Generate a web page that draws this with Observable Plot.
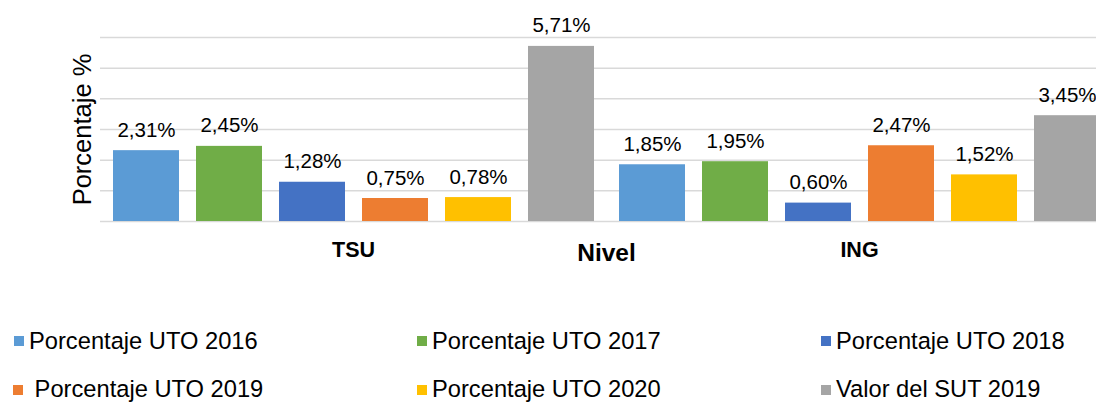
<!DOCTYPE html>
<html><head><meta charset="utf-8">
<script src="https://cdn.jsdelivr.net/npm/d3@7"></script>
<script src="https://cdn.jsdelivr.net/npm/@observablehq/plot@0.6"></script>
<style>
body{margin:0;background:#fff;font-family:"Liberation Sans",Arial,sans-serif;}
#wrap{position:relative;width:1096px;height:404px;overflow:hidden;background:#fff;}
#chart{position:absolute;left:0;top:0;width:1120px;}
#chart svg{max-width:none !important;}
.item{position:absolute;display:flex;align-items:center;font-size:23.7px;color:#000;white-space:pre;line-height:1;}
.sw{width:10px;height:10px;margin-right:5px;flex:none;}
</style></head><body>
<div id="wrap"><div id="chart"></div><div id="legend"></div></div>
<script>
const levels = ["TSU", "ING"];
const series = ["Porcentaje UTO 2016", "Porcentaje UTO 2017", "Porcentaje UTO 2018", "Porcentaje UTO 2019", "Porcentaje UTO 2020", "Valor del SUT 2019"];
const colors = ["#5B9BD5", "#70AD47", "#4472C4", "#ED7D31", "#FFC000", "#A5A5A5"];
const tsuValues = [2.31, 2.45, 1.28, 0.75, 0.78, 5.71];
const ingValues = [1.85, 1.95, 0.60, 2.47, 1.52, 3.45];
const yTicks = [0, 1, 2, 3, 4, 5, 6];
const legendLabels = ["Porcentaje UTO 2016", "Porcentaje UTO 2017", "Porcentaje UTO 2018", " Porcentaje UTO 2019", "Porcentaje UTO 2020", "Valor del SUT 2019"];

const data = [];
series.forEach((s, i) => data.push({level: "TSU", series: s, value: tsuValues[i]}));
series.forEach((s, i) => data.push({level: "ING", series: s, value: ingValues[i]}));
const fmt = v => v.toFixed(2).replace(".", ",") + "%";

const chart = Plot.plot({
  width: 1120,
  height: 290,
  marginLeft: 100,
  marginRight: 8,
  marginTop: 37,
  marginBottom: 69,
  style: {fontFamily: "'Liberation Sans', Arial, sans-serif", background: "#fff", color: "#000", maxWidth: "none"},
  fx: {domain: levels, paddingInner: 0, paddingOuter: 0, label: "Nivel"},
  x: {domain: series, paddingInner: 0.208, paddingOuter: 0.141, axis: null},
  y: {domain: [0, 6], axis: null},
  color: {domain: series, range: colors},
  marks: [
    Plot.gridY(yTicks, {stroke: "#d9d9d9", strokeOpacity: 1, strokeWidth: 1.5}),
    Plot.barY(data, {fx: "level", x: "series", y: "value", fill: "series"}),
    Plot.text(data, {fx: "level", x: "series", y: "value", text: d => fmt(d.value), lineAnchor: "bottom", dy: -14, fontSize: 20.5, fill: "#000"}),
    Plot.axisFx({anchor: "bottom", tickSize: 0, tickPadding: 20, fontSize: 21.5, fontWeight: "bold", label: "Nivel", labelAnchor: "center", labelOffset: 39}),
    Plot.axisY(yTicks, {anchor: "left", tickSize: 0, tickFormat: () => "", label: "Porcentaje %", labelArrow: "none", labelAnchor: "center", labelOffset: 28, fontSize: 25.5})
  ]
});
chart.style.maxWidth = "none";
document.getElementById("chart").appendChild(chart);
const fxLabel = chart.querySelector('[aria-label="fx-axis label"]');
if (fxLabel) { fxLabel.setAttribute("font-size", "24.5"); fxLabel.style.fontSize = "24.5px"; fxLabel.setAttribute("font-weight", "bold"); }
const yLabel = chart.querySelector('[aria-label="y-axis label"]');
if (yLabel) { yLabel.setAttribute("font-size", "25.5"); yLabel.style.fontSize = "25.5px"; yLabel.setAttribute("font-weight", "normal"); }

const legend = document.getElementById("legend");
const lefts = [14, 417, 821, 13, 417, 821];
const tops = [329.6, 329.6, 329.6, 378.1, 378.1, 378.1];
legendLabels.forEach((lab, i) => {
  const it = document.createElement("div");
  it.className = "item";
  it.style.left = lefts[i] + "px";
  it.style.top = tops[i] + "px";
  const sw = document.createElement("span");
  sw.className = "sw";
  sw.style.background = colors[i];
  const tx = document.createElement("span");
  tx.textContent = lab;
  it.appendChild(sw); it.appendChild(tx);
  legend.appendChild(it);
});
</script>
</body></html>
